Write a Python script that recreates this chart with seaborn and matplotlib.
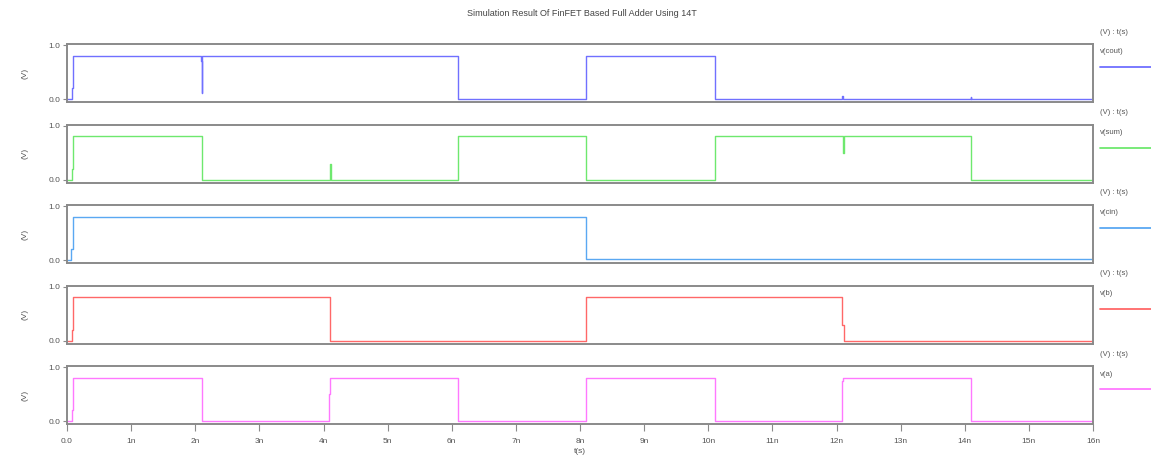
import numpy as np
import matplotlib
matplotlib.use("Agg")
import matplotlib.pyplot as plt
import seaborn as sns

sns.set_theme(style="white")
plt.rcParams['font.family'] = ['Liberation Sans', 'DejaVu Sans']

# waveform data (time in ns, voltage in V), step-post points
t_cout = [0, 0.08, 0.1, 2.09, 2.1, 2.11, 6.1, 8.1, 10.1, 12.09, 12.1, 12.11, 14.09, 14.1, 14.11, 16]
v_cout = [0, 0.2, 0.8, 0.7, 0.12, 0.8, 0.0, 0.8, 0.0, 0.06, 0.0, 0.0, 0.04, 0.0, 0.0, 0.0]

t_sum = [0, 0.08, 0.1, 2.1, 4.1, 4.11, 6.1, 8.1, 10.1, 12.1, 12.11, 14.1, 16]
v_sum = [0, 0.2, 0.8, 0.0, 0.3, 0.0, 0.8, 0.0, 0.8, 0.5, 0.8, 0.0, 0.0]

t_cin = [0, 0.06, 0.09, 8.1, 16]
v_cin = [0, 0.2, 0.8, 0.02, 0.02]

t_b = [0, 0.08, 0.1, 4.1, 8.1, 12.09, 12.11, 16]
v_b = [0, 0.2, 0.8, 0.0, 0.8, 0.3, 0.0, 0.0]

t_a = [0, 0.08, 0.1, 2.1, 4.08, 4.1, 6.1, 8.1, 10.1, 12.09, 12.1, 14.1, 16]
v_a = [0, 0.2, 0.8, 0.0, 0.5, 0.8, 0.0, 0.8, 0.0, 0.75, 0.8, 0.0, 0.0]

signals = [
    ("v(cout)", t_cout, v_cout, "#7070ff"),
    ("v(sum)", t_sum, v_sum, "#6ee86e"),
    ("v(cin)", t_cin, v_cin, "#5aa8f2"),
    ("v(b)", t_b, v_b, "#ff6868"),
    ("v(a)", t_a, v_a, "#ff78ff"),
]

x_ticks = list(range(17))
x_labels = ["0.0"] + [f"{i}n" for i in range(1, 17)]

W, H = 1151, 470
fig = plt.figure(figsize=(W / 100, H / 100), dpi=100)
fig.patch.set_facecolor("white")

left_px, right_px = 67, 1093
panel_h = 58
txt_col = "#555555"
frame_col = "#8a8a8a"

fig.text(0.5 * (left_px + right_px) / W + 0.002, 1 - 13 / H, "Simulation Result Of FinFET Based Full Adder Using 14T",
         ha="center", va="center", fontsize=6.5, color="#444444")

for i, (name, t, v, col) in enumerate(signals):
    top_px = 44 + i * 80.5
    ax = fig.add_axes([left_px / W, 1 - (top_px + panel_h) / H, (right_px - left_px) / W, panel_h / H])
    sns.lineplot(x=t, y=v, ax=ax, color=col, lw=1.0, drawstyle="steps-post", estimator=None, sort=False)
    ax.set_xlim(0, 16)
    ax.set_ylim(-0.05, 1.02)
    ax.set_yticks([0.0, 1.0])
    ax.set_yticklabels(["0.0", "1.0"], fontsize=6, color=txt_col)
    ax.set_ylabel("(V)", fontsize=6, color=txt_col, labelpad=14)
    ax.tick_params(axis="y", length=3, width=0.8, color=frame_col, pad=2, left=True)
    for s in ax.spines.values():
        s.set_color(frame_col)
        s.set_linewidth(1.4)
    if i < 4:
        ax.set_xticks([])
    else:
        ax.set_xticks(x_ticks)
        ax.set_xticklabels(x_labels, fontsize=6, color=txt_col)
        ax.tick_params(axis="x", length=5, width=0.8, color=frame_col, pad=5, bottom=True)
        ax.set_xlabel("t(s)", fontsize=6, color=txt_col, labelpad=2)

    # right-side annotations
    fig.text(1100 / W, 1 - (top_px - 12) / H, "(V) : t(s)", fontsize=5.5, color=txt_col, va="center")
    fig.text(1100 / W, 1 - (top_px + 8) / H, name, fontsize=5.5, color=txt_col, va="center")
    y_line = 1 - (top_px + 23) / H
    fig.add_artist(plt.Line2D([1100 / W, 1.0], [y_line, y_line], color=col, lw=1.3, transform=fig.transFigure))

fig.savefig("out.png", dpi=100)
